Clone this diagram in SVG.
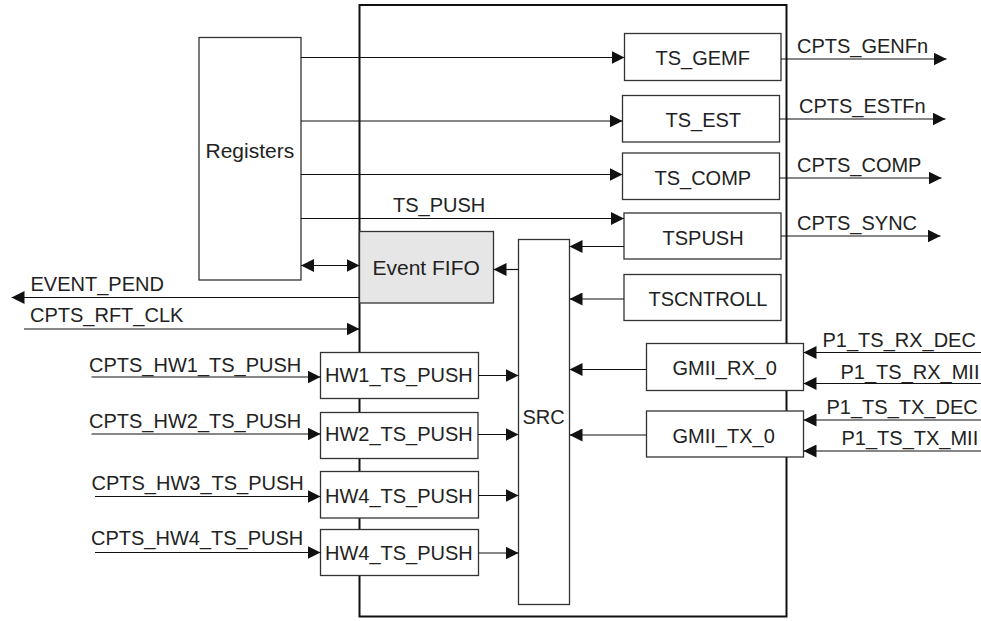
<svg xmlns="http://www.w3.org/2000/svg" width="981" height="621" viewBox="0 0 981 621">
<defs>
<marker id="ah" markerUnits="userSpaceOnUse" markerWidth="13" markerHeight="13" refX="13" refY="6.5" orient="auto-start-reverse" viewBox="0 0 13 13">
<path d="M0,0 L13,6.5 L0,13 z" fill="#111"/>
</marker>
<style>
.box{fill:#fff;stroke:#333;stroke-width:1.3}
.main{fill:#fff;stroke:#111;stroke-width:2}
.fifo{fill:#e6e6e6;stroke:#333;stroke-width:1.3}
.t{font-family:"Liberation Sans",Arial,sans-serif;font-size:20px;fill:#222}
.big{font-size:21px}
.w{stroke:#111;stroke-width:1.2;fill:none}
.a{stroke:#111;stroke-width:1.2;fill:none;marker-end:url(#ah)}
.b{stroke:#111;stroke-width:1.2;fill:none;marker-end:url(#ah);marker-start:url(#ah)}
</style>
</defs>
<rect width="981" height="621" fill="#fff"/>
<g id="main"><rect class="main" x="359.5" y="5" width="427" height="611.5"/></g>
<g id="registers"><rect class="box" x="199" y="37.5" width="102" height="242.5"/><text class="t big" x="205.5" y="158">Registers</text></g>
<g id="event_fifo"><rect class="fifo" x="359.5" y="231.5" width="134" height="71.5"/><text class="t big" x="372.5" y="275">Event FIFO</text></g>
<g id="src"><rect class="box" x="518.5" y="239.5" width="51" height="365"/><text class="t" x="522.5" y="424">SRC</text></g>
<g id="ts_gemf"><rect class="box" x="624.5" y="33.5" width="156.5" height="47"/><text class="t" x="655.5" y="65">TS_GEMF</text></g>
<g id="ts_est"><rect class="box" x="622.5" y="95.5" width="157" height="46.5"/><text class="t" x="665.5" y="126.5">TS_EST</text></g>
<g id="ts_comp"><rect class="box" x="622.5" y="153" width="157" height="46.5"/><text class="t" x="654.5" y="185">TS_COMP</text></g>
<g id="tspush"><rect class="box" x="624" y="213" width="157" height="46"/><text class="t" x="662.5" y="244.5">TSPUSH</text></g>
<g id="tscntroll"><rect class="box" x="624" y="274.5" width="157" height="46"/><text class="t" x="648.5" y="306">TSCNTROLL</text></g>
<g id="gmii_rx_0"><rect class="box" x="646.5" y="343.5" width="157" height="47"/><text class="t" x="672.5" y="375">GMII_RX_0</text></g>
<g id="gmii_tx_0"><rect class="box" x="646.5" y="411" width="157" height="46"/><text class="t" x="672.5" y="442.5">GMII_TX_0</text></g>
<g id="hw1"><rect class="box" x="320.5" y="352.5" width="158" height="46"/><text class="t" x="325" y="382">HW1_TS_PUSH</text></g>
<g id="hw2"><rect class="box" x="320.5" y="412.5" width="157.5" height="46"/><text class="t" x="325" y="440.5">HW2_TS_PUSH</text></g>
<g id="hw3"><rect class="box" x="320.5" y="471.5" width="158" height="46.5"/><text class="t" x="325" y="502.5">HW4_TS_PUSH</text></g>
<g id="hw4"><rect class="box" x="320.5" y="529.5" width="158" height="46"/><text class="t" x="325" y="560">HW4_TS_PUSH</text></g>
<g id="connectors">
<line class="a" x1="301" y1="57.5" x2="624.5" y2="57.5"/>
<line class="a" x1="301" y1="121" x2="622.5" y2="121"/>
<line class="a" x1="301" y1="174.5" x2="622.5" y2="174.5"/>
<line class="a" x1="301" y1="218.5" x2="624" y2="218.5"/>
<line class="b" x1="301" y1="265.5" x2="359.5" y2="265.5"/>
<line class="a" x1="518.5" y1="269.5" x2="493.5" y2="269.5"/>
<line class="a" x1="624" y1="246.5" x2="569.5" y2="246.5"/>
<line class="a" x1="624" y1="299" x2="569.5" y2="299"/>
<line class="a" x1="646.5" y1="369.5" x2="569.5" y2="369.5"/>
<line class="a" x1="646.5" y1="435" x2="569.5" y2="435"/>
<line class="a" x1="781" y1="59" x2="946.5" y2="59"/>
<line class="a" x1="779.5" y1="119" x2="945.5" y2="119"/>
<line class="a" x1="779.5" y1="178" x2="941.5" y2="178"/>
<line class="a" x1="781" y1="236" x2="940.5" y2="236"/>
<line class="a" x1="359.5" y1="297.5" x2="11.5" y2="297.5"/>
<line class="a" x1="24" y1="329" x2="359.5" y2="329"/>
<line class="a" x1="91.5" y1="377" x2="320.5" y2="377"/>
<line class="a" x1="91.5" y1="434" x2="320.5" y2="434"/>
<line class="a" x1="95" y1="496.5" x2="320.5" y2="496.5"/>
<line class="a" x1="95" y1="552.5" x2="320.5" y2="552.5"/>
<line class="a" x1="478.5" y1="375.5" x2="518.5" y2="375.5"/>
<line class="a" x1="478" y1="434.5" x2="518.5" y2="434.5"/>
<line class="a" x1="478.5" y1="495.5" x2="518.5" y2="495.5"/>
<line class="a" x1="478.5" y1="553" x2="518.5" y2="553"/>
<line class="a" x1="981" y1="352.5" x2="803.5" y2="352.5"/>
<line class="a" x1="981" y1="383.5" x2="803.5" y2="383.5"/>
<line class="a" x1="981" y1="420" x2="803.5" y2="420"/>
<line class="a" x1="981" y1="451" x2="803.5" y2="451"/>
</g>
<g id="labels">
<text class="t" x="393" y="212">TS_PUSH</text>
<text class="t" x="797" y="53">CPTS_GENFn</text>
<text class="t" x="799" y="113">CPTS_ESTFn</text>
<text class="t" x="797" y="172">CPTS_COMP</text>
<text class="t" x="797" y="230">CPTS_SYNC</text>
<text class="t" x="30.5" y="290.5">EVENT_PEND</text>
<text class="t" x="30" y="321.5">CPTS_RFT_CLK</text>
<text class="t" x="89" y="371.5">CPTS_HW1_TS_PUSH</text>
<text class="t" x="89" y="427.5">CPTS_HW2_TS_PUSH</text>
<text class="t" x="91.5" y="489.5">CPTS_HW3_TS_PUSH</text>
<text class="t" x="91" y="545">CPTS_HW4_TS_PUSH</text>
<text class="t" x="822.5" y="346.5">P1_TS_RX_DEC</text>
<text class="t" x="840.5" y="378.5">P1_TS_RX_MII</text>
<text class="t" x="826.5" y="413.5">P1_TS_TX_DEC</text>
<text class="t" x="841.5" y="445">P1_TS_TX_MII</text>
</g>
</svg>
